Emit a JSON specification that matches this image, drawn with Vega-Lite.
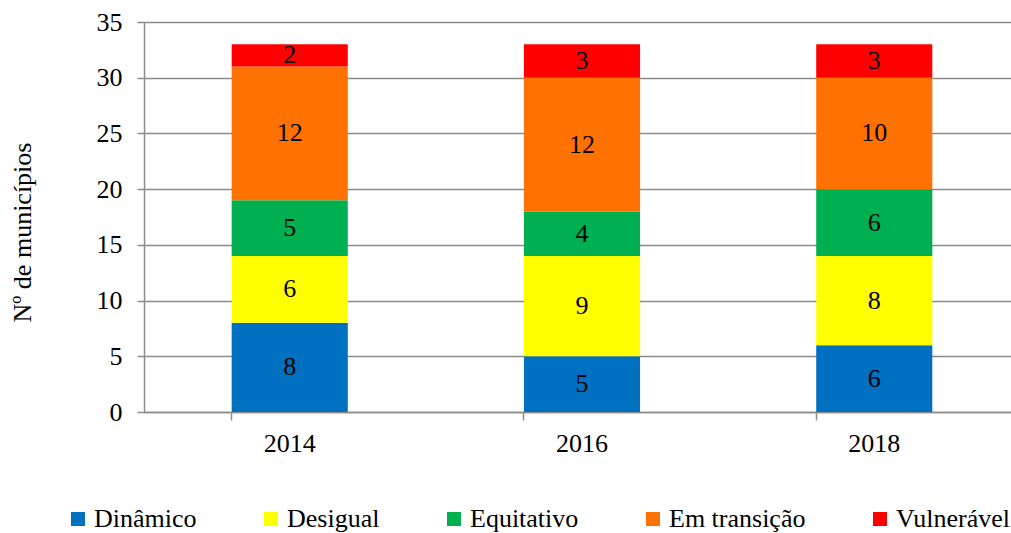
{
  "$schema": "https://vega.github.io/schema/vega-lite/v6.json",
  "autosize": "none",
  "width": 876,
  "height": 390,
  "padding": {"left": 144, "top": 22, "right": -9, "bottom": 121},
  "background": "white",
  "config": {
    "font": "Liberation Serif",
    "view": {"stroke": null},
    "axis": {"labelFont": "Liberation Serif", "titleFont": "Liberation Serif", "labelColor": "black", "titleColor": "black"},
    "legend": {"labelFont": "Liberation Serif"}
  },
  "data": {
    "values": [
      {"year": "2014", "cat": "Dinâmico", "n": 8},
      {"year": "2014", "cat": "Desigual", "n": 6},
      {"year": "2014", "cat": "Equitativo", "n": 5},
      {"year": "2014", "cat": "Em transição", "n": 12},
      {"year": "2014", "cat": "Vulnerável", "n": 2},
      {"year": "2016", "cat": "Dinâmico", "n": 5},
      {"year": "2016", "cat": "Desigual", "n": 9},
      {"year": "2016", "cat": "Equitativo", "n": 4},
      {"year": "2016", "cat": "Em transição", "n": 12},
      {"year": "2016", "cat": "Vulnerável", "n": 3},
      {"year": "2018", "cat": "Dinâmico", "n": 6},
      {"year": "2018", "cat": "Desigual", "n": 8},
      {"year": "2018", "cat": "Equitativo", "n": 6},
      {"year": "2018", "cat": "Em transição", "n": 10},
      {"year": "2018", "cat": "Vulnerável", "n": 3}
    ]
  },
  "transform": [
    {"calculate": "indexof(['Dinâmico','Desigual','Equitativo','Em transição','Vulnerável'], datum.cat)", "as": "k"},
    {"stack": "n", "groupby": ["year"], "sort": [{"field": "k", "order": "ascending"}], "as": ["y0", "y1"]},
    {"calculate": "(datum.y0 + datum.y1) / 2", "as": "ym"}
  ],
  "encoding": {
    "x": {
      "field": "year", "type": "nominal", "title": null,
      "scale": {"paddingInner": 0.6027, "paddingOuter": 0.3},
      "axis": {
        "bandPosition": 0, "labelAngle": 0, "labelFont": "Liberation Serif", "labelFontSize": 26, "labelPadding": 10,
        "tickSize": 8, "tickColor": "#8c8c8c", "domainColor": "#8c8c8c", "domainWidth": 1.5, "tickWidth": 1.5, "grid": false
      }
    }
  },
  "layer": [
    {
      "mark": {"type": "bar"},
      "encoding": {
        "y": {
          "field": "y0", "type": "quantitative", "title": "Nº de municípios",
          "scale": {"domain": [0, 35]},
          "axis": {
            "values": [0, 5, 10, 15, 20, 25, 30, 35], "labelFont": "Liberation Serif", "labelFontSize": 26, "labelPadding": 15,
            "tickSize": 7, "tickColor": "#8c8c8c", "tickWidth": 1.5, "domainColor": "#8c8c8c", "domainWidth": 1.5,
            "gridColor": "#8c8c8c", "gridWidth": 1.5,
            "titleFont": "Liberation Serif", "titleFontSize": 26, "titleFontWeight": "normal", "titlePadding": 61, "titleY": 210
          }
        },
        "y2": {"field": "y1"},
        "color": {
          "field": "cat", "type": "nominal", "title": null,
          "scale": {
            "domain": ["Dinâmico", "Desigual", "Equitativo", "Em transição", "Vulnerável"],
            "range": ["#0070C0", "#FFFF00", "#00B050", "#FF7100", "#FF0000"]
          },
          "legend": {
            "orient": "none", "legendX": -79, "legendY": 484, "direction": "horizontal", "columns": 5,
            "symbolType": "square", "symbolSize": 196, "symbolStrokeWidth": 0, "symbolOpacity": 1,
            "labelFont": "Liberation Serif", "labelColor": "black",
            "labelFontSize": 26, "labelOffset": 3, "columnPadding": 61, "labelLimit": 300
          }
        }
      }
    },
    {
      "mark": {"type": "text", "font": "Liberation Serif", "fontSize": 26, "color": "black", "baseline": "middle"},
      "encoding": {
        "y": {"field": "ym", "type": "quantitative"},
        "text": {"field": "n", "type": "quantitative"}
      }
    }
  ]
}
